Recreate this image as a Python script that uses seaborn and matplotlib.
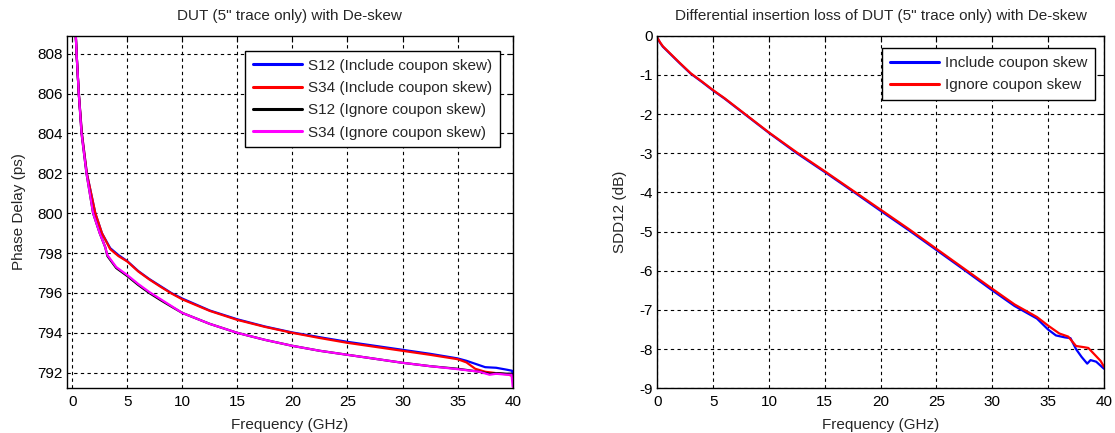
import matplotlib
matplotlib.use("Agg")
import matplotlib.pyplot as plt
import seaborn as sns
import pandas as pd

# ---------------- data: left panel (phase delay, ps) ----------------
freq_incl = [0.2, 0.4, 0.6, 0.88, 1.33, 2.1, 2.7, 3.45, 4.2, 5, 6, 7, 8, 9, 10, 12.5, 15, 17.5,
             20, 22.5, 25, 27.5, 30, 32.5, 35, 35.8, 36.6, 37.5, 38.5, 39.5, 39.95, 40.0]
s12_incl = [810.5, 808.0, 806.0, 804.0, 802.0, 800.0, 799.0, 798.25, 797.9, 797.6, 797.1, 796.7,
            796.35, 796.0, 795.72, 795.12, 794.68, 794.32, 794.02, 793.78, 793.55, 793.35, 793.15,
            792.95, 792.72, 792.6, 792.45, 792.28, 792.25, 792.15, 792.1, 791.95]
s34_incl = [810.5, 808.0, 806.0, 804.0, 802.0, 800.0, 799.0, 798.2, 797.85, 797.58, 797.08, 796.68,
            796.32, 795.98, 795.68, 795.1, 794.65, 794.3, 794.0, 793.74, 793.5, 793.3, 793.1,
            792.9, 792.68, 792.52, 792.2, 792.05, 791.98, 791.92, 791.85, 791.6]
freq_ign = [0.2, 0.4, 0.6, 0.85, 1.3, 1.9, 2.5, 3.0, 3.2, 4, 5, 6, 7, 8, 9, 10, 12.5, 15, 17.5,
            20, 22.5, 25, 27.5, 30, 32.5, 35, 37, 37.9, 38.5, 39.5, 39.9, 40.0]
s12_ign = [810.5, 808.0, 806.0, 804.0, 802.0, 800.0, 799.0, 798.3, 797.85, 797.25, 796.85, 796.4,
           796.0, 795.65, 795.32, 795.0, 794.45, 794.0, 793.65, 793.35, 793.1, 792.9, 792.7,
           792.5, 792.33, 792.2, 792.05, 791.95, 791.98, 791.95, 791.95, 791.8]
s34_ign = [810.5, 808.0, 806.0, 804.0, 802.0, 800.0, 799.0, 798.3, 797.9, 797.3, 796.9, 796.45,
           796.05, 795.7, 795.35, 795.0, 794.45, 794.0, 793.65, 793.35, 793.1, 792.9, 792.7,
           792.5, 792.33, 792.18, 792.05, 791.9, 791.95, 791.9, 791.9, 791.3]

# ---------------- data: right panel (SDD12, dB) ----------------
freq_il_incl = [0, 0.25, 0.5, 1, 2, 3, 4, 5, 6, 7.5, 10, 12.5, 15, 17.5, 20, 22.5, 25, 27.5, 30,
                32, 33, 34, 35, 35.7, 36.5, 37, 37.5, 38, 38.5, 38.8, 39.3, 40]
sdd12_incl = [-0.05, -0.18, -0.28, -0.42, -0.7, -0.97, -1.18, -1.4, -1.6, -1.93, -2.48, -3.0,
              -3.48, -3.97, -4.47, -4.96, -5.47, -5.98, -6.5, -6.9, -7.06, -7.22, -7.5, -7.65,
              -7.7, -7.72, -8.0, -8.2, -8.37, -8.28, -8.32, -8.5]
freq_il_ign = [0, 0.25, 0.5, 1, 2, 3, 4, 5, 6, 7.5, 10, 12.5, 15, 17.5, 20, 22.5, 25, 27.5, 30,
               32, 33, 34, 35, 36, 36.8, 37.5, 38.2, 38.6, 39.2, 39.7, 40]
sdd12_ign = [-0.05, -0.17, -0.27, -0.41, -0.69, -0.96, -1.17, -1.39, -1.59, -1.92, -2.47, -2.98,
             -3.46, -3.95, -4.44, -4.93, -5.44, -5.95, -6.46, -6.86, -7.02, -7.18, -7.4, -7.6,
             -7.68, -7.92, -7.95, -7.97, -8.15, -8.3, -8.45]

left_labels = ["S12 (Include coupon skew)", "S34 (Include coupon skew)",
               "S12 (Ignore coupon skew)", "S34 (Ignore coupon skew)"]
right_labels = ["Include coupon skew", "Ignore coupon skew"]

sns.set_style("white")
plt.rcParams["font.family"] = ["Liberation Sans", "DejaVu Sans"]
plt.rcParams["axes.unicode_minus"] = False
FS = 11

fig = plt.figure(figsize=(11.15, 4.33), dpi=100)
ax1 = fig.add_axes([0.0598, 0.1032, 0.400, 0.8143])
ax2 = fig.add_axes([0.5895, 0.1032, 0.4006, 0.8143])

def draw(ax, x, y, color, label):
    df = pd.DataFrame({"x": x, "y": y})
    sns.lineplot(data=df, x="x", y="y", ax=ax, color=color, lw=1.6, label=label,
                 estimator=None, sort=False)

draw(ax1, freq_incl, s12_incl, "#0000ff", left_labels[0])
draw(ax1, freq_incl, s34_incl, "#ff0000", left_labels[1])
draw(ax1, freq_ign, s12_ign, "#000000", left_labels[2])
draw(ax1, freq_ign, s34_ign, "#ff00ff", left_labels[3])

draw(ax2, freq_il_incl, sdd12_incl, "#0000ff", right_labels[0])
draw(ax2, freq_il_ign, sdd12_ign, "#ff0000", right_labels[1])

ax1.set_xlim(-0.5, 40)
ax1.set_ylim(791.22, 808.9)
ax1.set_xticks(range(0, 41, 5))
ax1.set_yticks(range(792, 809, 2))
ax2.set_xlim(0, 40)
ax2.set_ylim(-9, 0)
ax2.set_xticks(range(0, 41, 5))
ax2.set_yticks(range(-9, 1, 1))

ax1.set_title('DUT (5" trace only) with De-skew', fontsize=FS, pad=11)
ax2.set_title('Differential insertion loss of DUT (5" trace only) with De-skew', fontsize=FS, pad=11)
ax1.set_xlabel("Frequency (GHz)", fontsize=FS, labelpad=6)
ax2.set_xlabel("Frequency (GHz)", fontsize=FS, labelpad=6)
ax1.set_ylabel("Phase Delay (ps)", fontsize=FS, labelpad=8)
ax2.set_ylabel("SDD12 (dB)", fontsize=FS, labelpad=9)

for ax in (ax1, ax2):
    ax.grid(True, color="black", linestyle=(0, (3, 3)), linewidth=0.8)
    ax.tick_params(direction="in", length=4, width=0.8, top=True, right=True,
                   labelsize=FS, colors="black")
    ax.tick_params(axis="x", pad=5)
    ax.tick_params(axis="y", pad=3)
    for s in ax.spines.values():
        s.set_visible(True)
        s.set_color("black")
        s.set_linewidth(1.0)

leg_kw = dict(loc="upper right", borderaxespad=0, fontsize=FS, frameon=True, fancybox=False,
              handlelength=3.2, labelspacing=0.55, borderpad=0.5, handletextpad=0.4)
leg1 = ax1.legend(bbox_to_anchor=(0.971, 0.957), **leg_kw)
leg2 = ax2.legend(bbox_to_anchor=(0.98, 0.964), **leg_kw)
for leg in (leg1, leg2):
    leg.get_frame().set_edgecolor("black")
    leg.get_frame().set_linewidth(1.0)
    leg.get_frame().set_alpha(1)
    for line in leg.get_lines():
        line.set_linewidth(2.2)

fig.savefig("out.png", dpi=100, facecolor="white")
